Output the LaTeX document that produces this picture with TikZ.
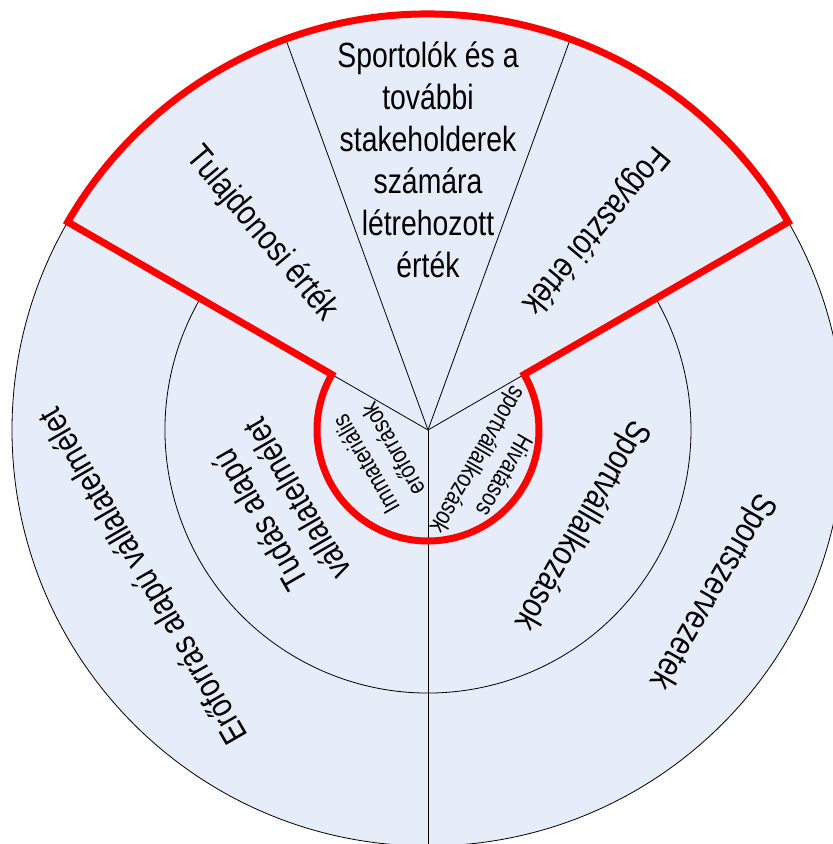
\documentclass[tikz,border=0pt]{standalone}
\usepackage{fontspec}
\setmainfont{Liberation Sans}[FakeStretch=0.81]
\definecolor{ringfill}{RGB}{230,237,248}
\definecolor{hired}{RGB}{255,0,0}
\newcommand{\bigtxt}{\fontsize{35}{42}\selectfont}
\newcommand{\smalltxt}{\fontsize{25}{31}\selectfont}
\begin{document}
\begin{tikzpicture}[x=1pt,y=1pt,
  seg/.style={draw=black,line width=0.8pt},
  biglbl/.style={font=\bigtxt, align=center, inner sep=0pt},
  smalllbl/.style={font=\smalltxt, align=center, inner sep=0pt},
  hilite/.style={draw=hired, line width=7pt, line join=miter}]
\path[use as bounding box] (-428,-414) rectangle (405,430);
\clip (-428,-414) rectangle (405,430);
\coordinate (C) at (0,0);
\coordinate (o110) at (110:416);
\coordinate (o70) at (70:416);
\coordinate (o150) at (150:416);
\coordinate (o30) at (30:416);
\coordinate (o270) at (270:416);
\fill[ringfill] (C) circle[radius=416];
\draw[seg] (C) circle[radius=416];
\draw[seg] (150:263) arc[start angle=150, end angle=390, radius=263];
\draw[seg] (150:111) arc[start angle=150, end angle=390, radius=111];
\draw[seg] (C) -- (o110);
\draw[seg] (C) -- (o70);
\draw[seg] (C) -- (o150);
\draw[seg] (C) -- (o30);
\draw[seg] (C) -- (o270);
\draw[hilite] (o150) -- (150:111) arc[start angle=150, end angle=390, radius=111]
  -- (o30) arc[start angle=30, end angle=150, radius=416] -- cycle;
\node[biglbl] (top) at (0,270) {Sportolók és a\\további\\stakeholderek\\számára\\létrehozott\\érték};
\node[biglbl, rotate=-50] (own) at (-166,196) {Tulajdonosi érték};
\node[biglbl, rotate=230] (cons) at (167,200) {Fogyasztói érték};
\node[biglbl, rotate=120] (rbv) at (-283,-145) {Erőforrás alapú vállalatelmélet};
\node[biglbl, rotate=120] (kbv) at (-150,-80) {Tudás alapú\\vállalatelmélet};
\node[smalllbl, rotate=120] (intang) at (-49,-27) {Immateriális\\erőforrások};
\node[smalllbl, rotate=240] (prof) at (62,-37) {Hivatásos\\sportvállalkozások};
\node[biglbl, rotate=240] (sb) at (153,-95) {Sportvállalkozások};
\node[biglbl, rotate=240] (so) at (284,-161) {Sportszervezetek};
\end{tikzpicture}
\end{document}
